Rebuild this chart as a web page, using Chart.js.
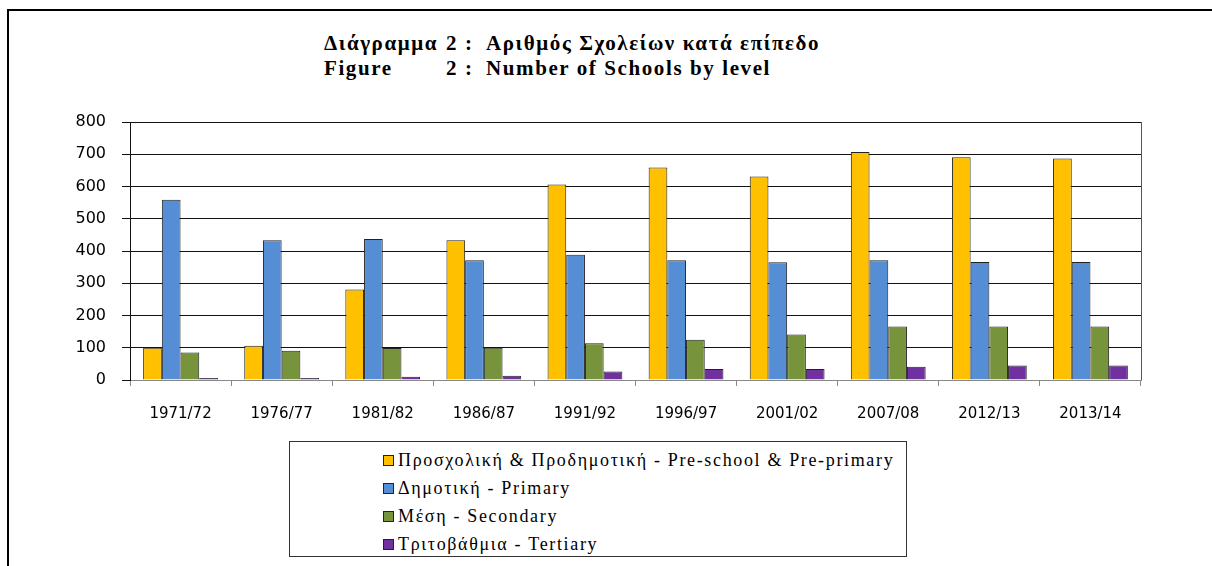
<!DOCTYPE html>
<html lang="el">
<head>
  <meta charset="UTF-8">
  <title>Αριθμός Σχολείων κατά επίπεδο</title>
  <script src="https://cdn.jsdelivr.net/npm/chart.js"></script>
  <style>
    body {
      margin: 0;
      width: 1212px;
      height: 566px;
      background: #fff;
      overflow: hidden;
      position: relative;
    }
    #frame {
      position: absolute;
      left: 7px;
      top: 9px;
      width: 1300px;
      height: 700px;
      border: 2px solid #000;
    }
    #title {
      position: absolute;
      left: 324px;
      top: 31px;
      display: grid;
      grid-template-columns: 122px 40px auto;
      font-family: "Liberation Serif", serif;
      font-weight: bold;
      font-size: 21px;
      line-height: 25px;
      letter-spacing: 1.6px;
      color: #000;
    }
    .chart-box {
      position: absolute;
      left: 0;
      top: 0;
      width: 1212px;
      height: 440px;
    }
    #legend {
      position: absolute;
      left: 289px;
      top: 441px;
      width: 616px;
      height: 114px;
      border: 1px solid #333;
      font-family: "Liberation Serif", serif;
    }
    #legend ul {
      list-style: none;
      margin: 0;
      padding: 4px 0 0 93px;
    }
    #legend li {
      display: flex;
      align-items: center;
      height: 28px;
      font-family: "Liberation Serif", serif;
      font-size: 18px;
      letter-spacing: 1.65px;
      color: #000;
    }
    #legend .box {
      width: 9px;
      height: 9px;
      border: 1px solid #222;
      margin-right: 4px;
      flex: none;
    }
  </style>
</head>
<body>

<div id="frame"></div>

<div id="title">
  <span>Διάγραμμα</span><span>2 :</span><span>Αριθμός Σχολείων κατά επίπεδο</span>
  <span>Figure</span><span>2 :</span><span>Number of Schools by level</span>
</div>

<div class="chart-box"><canvas id="schoolsChart"></canvas></div>
<div id="legend"></div>

<script>
const years = ['1971/72', '1976/77', '1981/82', '1986/87', '1991/92', '1996/97', '2001/02', '2007/08', '2012/13', '2013/14'];

const preSchool = [100, 106, 281, 433, 606, 659, 631, 707, 691, 687];
const primary   = [559, 433, 437, 371, 388, 371, 365, 371, 366, 366];
const secondary = [85, 91, 99, 100, 114, 125, 141, 166, 166, 166];
const tertiary  = [6, 6, 10, 13, 26, 34, 34, 41, 45, 45];

const seriesNames = [
  'Προσχολική & Προδημοτική - Pre-school & Pre-primary',
  'Δημοτική - Primary',
  'Μέση - Secondary',
  'Τριτοβάθμια - Tertiary'
];

const seriesColors = ['#ffc000', '#558ed5', '#77933c', '#7030a0'];

// plot frame on the right side of the chart area
const plotBorder = {
  id: 'plotBorder',
  afterDraw(chart) {
    const { ctx, chartArea } = chart;
    ctx.save();
    ctx.strokeStyle = '#555';
    ctx.lineWidth = 1;
    ctx.beginPath();
    ctx.moveTo(Math.round(chartArea.right) + 0.5, chartArea.top);
    ctx.lineTo(Math.round(chartArea.right) + 0.5, chartArea.bottom);
    ctx.stroke();
    ctx.restore();
  }
};

// html legend built from the chart's own legend items
const htmlLegend = {
  id: 'htmlLegend',
  afterUpdate(chart) {
    const container = document.getElementById('legend');
    container.innerHTML = '';
    const ul = document.createElement('ul');
    chart.options.plugins.legend.labels.generateLabels(chart).forEach(item => {
      const li = document.createElement('li');
      const box = document.createElement('span');
      box.className = 'box';
      box.style.background = item.fillStyle;
      const text = document.createElement('span');
      text.textContent = item.text;
      li.appendChild(box);
      li.appendChild(text);
      ul.appendChild(li);
    });
    container.appendChild(ul);
  }
};

const data = [preSchool, primary, secondary, tertiary];

new Chart(document.getElementById('schoolsChart'), {
  type: 'bar',
  data: {
    labels: years,
    datasets: data.map((values, i) => ({
      label: seriesNames[i],
      data: values,
      backgroundColor: seriesColors[i],
      borderColor: '#222',
      borderWidth: 1,
      categoryPercentage: 0.74,
      barPercentage: 1
    }))
  },
  options: {
    responsive: true,
    maintainAspectRatio: false,
    animation: false,
    layout: {
      padding: { top: 122, right: 71, left: 70, bottom: 10 }
    },
    plugins: {
      legend: { display: false },
      title: { display: false },
      tooltip: { enabled: false }
    },
    scales: {
      x: {
        grid: {
          offset: true,
          drawOnChartArea: false,
          color: '#888',
          tickLength: 6
        },
        border: { color: '#888' },
        ticks: {
          color: '#000',
          padding: 19,
          font: { family: 'DejaVu Sans', size: 15 }
        },
        afterFit(scale) { scale.height = 50; }
      },
      y: {
        min: 0,
        max: 800,
        ticks: {
          stepSize: 100,
          color: '#000',
          padding: 16,
          font: { family: 'DejaVu Sans', size: 16 }
        },
        grid: {
          color: '#111',
          lineWidth: 1,
          tickLength: 8
        },
        border: { color: '#111' },
        afterFit(scale) { scale.width = 60; }
      }
    }
  },
  plugins: [plotBorder, htmlLegend]
});
</script>
</body>
</html>
